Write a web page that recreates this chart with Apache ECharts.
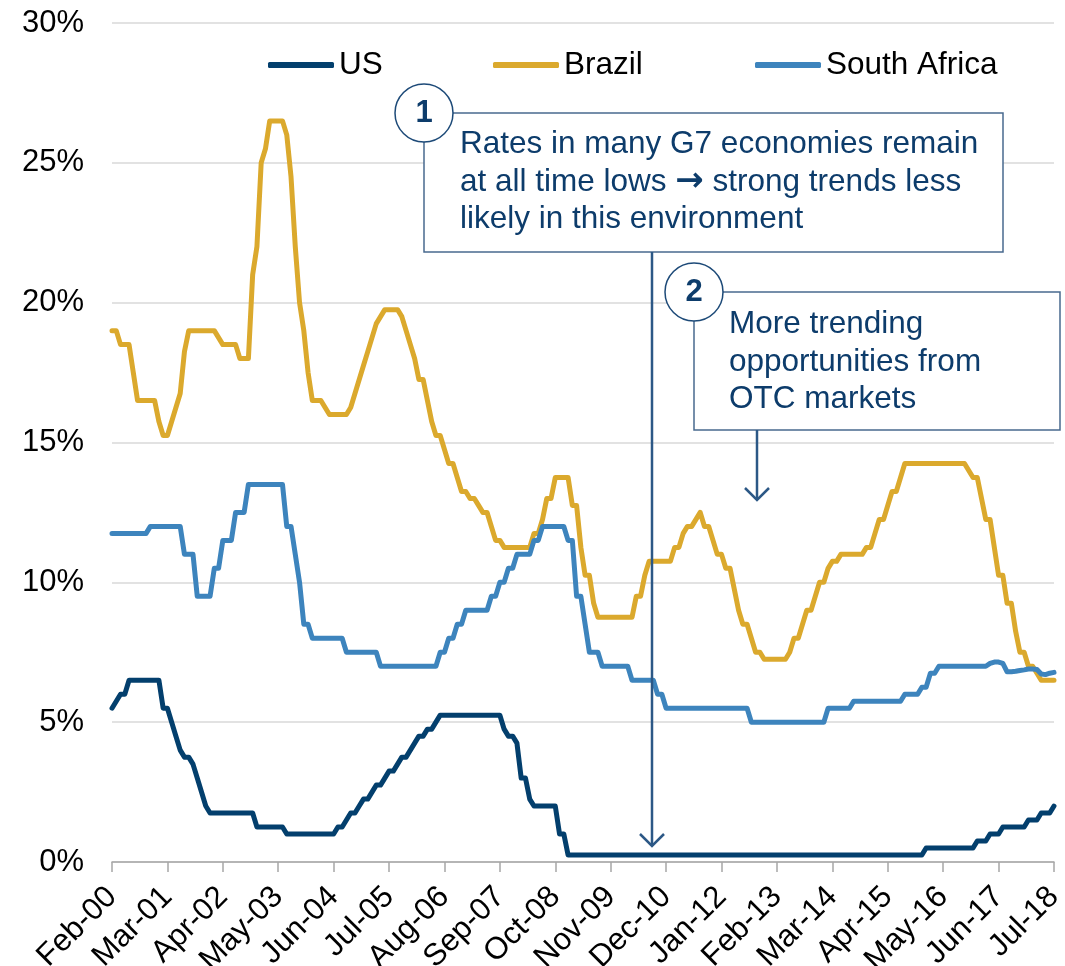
<!DOCTYPE html>
<html><head><meta charset="utf-8">
<script src="https://cdn.jsdelivr.net/npm/echarts@6/dist/echarts.min.js"></script>
<style>html,body{margin:0;padding:0;background:#fff}#c{width:1065px;height:966px}</style>
</head><body><div id="c"></div><script>
// Monthly observations, Feb-2000 .. Jul-2018 (policy rates, %)
const monthNames = ['Jan','Feb','Mar','Apr','May','Jun','Jul','Aug','Sep','Oct','Nov','Dec'];
const firstYear = 2000, firstMonth = 1, monthCount = 222;
const tickLabels = ['Feb-00','Mar-01','Apr-02','May-03','Jun-04','Jul-05','Aug-06','Sep-07','Oct-08','Nov-09','Dec-10','Jan-12','Feb-13','Mar-14','Apr-15','May-16','Jun-17','Jul-18'];
const seriesNames = ['US','Brazil','South Africa'];

const us = [
  5.5,5.75,6,6,6.5,6.5,6.5,6.5,6.5,6.5,6.5,
  6.5,5.5,5.5,5,4.5,4,3.75,3.75,3.5,3,2.5,2,
  1.75,1.75,1.75,1.75,1.75,1.75,1.75,1.75,1.75,1.75,1.75,1.25,
  1.25,1.25,1.25,1.25,1.25,1.25,1,1,1,1,1,1,
  1,1,1,1,1,1,1.25,1.25,1.5,1.75,1.75,2,
  2.25,2.25,2.5,2.75,2.75,3,3.25,3.25,3.5,3.75,3.75,4,
  4.25,4.5,4.5,4.75,4.75,5,5.25,5.25,5.25,5.25,5.25,5.25,
  5.25,5.25,5.25,5.25,5.25,5.25,5.25,5.25,5.25,4.75,4.5,4.5,
  4.25,3,3,2.25,2,2,2,2,2,2,1,1,
  0.25,0.25,0.25,0.25,0.25,0.25,0.25,0.25,0.25,0.25,0.25,0.25,
  0.25,0.25,0.25,0.25,0.25,0.25,0.25,0.25,0.25,0.25,0.25,0.25,
  0.25,0.25,0.25,0.25,0.25,0.25,0.25,0.25,0.25,0.25,0.25,0.25,
  0.25,0.25,0.25,0.25,0.25,0.25,0.25,0.25,0.25,0.25,0.25,0.25,
  0.25,0.25,0.25,0.25,0.25,0.25,0.25,0.25,0.25,0.25,0.25,0.25,
  0.25,0.25,0.25,0.25,0.25,0.25,0.25,0.25,0.25,0.25,0.25,0.25,
  0.25,0.25,0.25,0.25,0.25,0.25,0.25,0.25,0.25,0.25,0.25,0.25,
  0.5,0.5,0.5,0.5,0.5,0.5,0.5,0.5,0.5,0.5,0.5,0.5,
  0.75,0.75,0.75,1,1,1,1.25,1.25,1.25,1.25,1.25,1.25,
  1.5,1.5,1.5,1.75,1.75,1.75,2
];

const brazil = [
  19,19,18.5,18.5,18.5,17.5,16.5,16.5,16.5,16.5,16.5,
  15.75,15.25,15.25,15.75,16.25,16.75,18.25,19,19,19,19,19,
  19,19,18.75,18.5,18.5,18.5,18.5,18,18,18,21,22,
  25,25.5,26.5,26.5,26.5,26.5,26,24.5,22,20,19,17.5,
  16.5,16.5,16.5,16.25,16,16,16,16,16,16.25,16.75,17.25,
  17.75,18.25,18.75,19.25,19.5,19.75,19.75,19.75,19.75,19.5,19,18.5,
  18,17.25,17.25,16.5,15.75,15.25,15.25,14.75,14.25,14.25,13.75,13.25,
  13.25,13,13,12.75,12.5,12.5,12,11.5,11.5,11.25,11.25,11.25,
  11.25,11.25,11.25,11.25,11.75,11.75,12.25,13,13,13.75,13.75,13.75,
  13.75,12.75,12.75,11.25,10.25,10.25,9.25,8.75,8.75,8.75,8.75,8.75,
  8.75,8.75,8.75,8.75,9.5,9.5,10.25,10.75,10.75,10.75,10.75,10.75,
  10.75,11.25,11.25,11.75,12,12,12.25,12.5,12,12,11.5,11,
  11,10.5,10.5,9.75,9,8.5,8.5,8,7.5,7.5,7.25,7.25,
  7.25,7.25,7.25,7.25,7.5,8,8,8.5,9,9,9.5,10,
  10,10.5,10.75,10.75,11,11,11,11,11,11,11.25,11.25,
  11.75,12.25,12.25,12.75,13.25,13.25,13.75,14.25,14.25,14.25,14.25,14.25,
  14.25,14.25,14.25,14.25,14.25,14.25,14.25,14.25,14.25,14.25,14,13.75,
  13.75,13,12.25,12.25,11.25,10.25,10.25,9.25,9.25,8.25,7.5,7.5,
  7,7,6.75,6.5,6.5,6.5,6.5
];

const southAfrica = [
  11.75,11.75,11.75,11.75,11.75,11.75,11.75,11.75,11.75,12,12,
  12,12,12,12,12,12,11,11,11,9.5,9.5,9.5,
  9.5,10.5,10.5,11.5,11.5,11.5,12.5,12.5,12.5,13.5,13.5,13.5,
  13.5,13.5,13.5,13.5,13.5,13.5,12,12,11,10,8.5,8.5,
  8,8,8,8,8,8,8,8,7.5,7.5,7.5,7.5,
  7.5,7.5,7.5,7.5,7,7,7,7,7,7,7,7,
  7,7,7,7,7,7,7.5,7.5,8,8,8.5,8.5,
  9,9,9,9,9,9,9.5,9.5,10,10,10.5,10.5,
  11,11,11,11,11.5,11.5,12,12,12,12,12,12,
  11.5,11.5,9.5,9.5,8.5,7.5,7.5,7.5,7,7,7,7,
  7,7,7,6.5,6.5,6.5,6.5,6.5,6.5,6,6,5.5,
  5.5,5.5,5.5,5.5,5.5,5.5,5.5,5.5,5.5,5.5,5.5,5.5,
  5.5,5.5,5.5,5.5,5.5,5.5,5.5,5,5,5,5,5,
  5,5,5,5,5,5,5,5,5,5,5,5,
  5,5.5,5.5,5.5,5.5,5.5,5.5,5.75,5.75,5.75,5.75,5.75,
  5.75,5.75,5.75,5.75,5.75,5.75,5.75,6,6,6,6,6.25,
  6.25,6.75,6.75,7,7,7,7,7,7,7,7,7,
  7,7,7,7.1,7.15,7.15,7.1,6.8,6.8,6.82,6.85,6.87,
  6.9,6.9,6.88,6.72,6.7,6.75,6.78
];

const categories = [];
for (let i = 0; i < monthCount; i++) {
  const t = firstMonth + i;
  const y = firstYear + Math.floor(t / 12);
  categories.push(monthNames[t % 12] + '-' + String(y % 100).padStart(2, '0'));
}

const FONT = '"Liberation Sans", Arial, sans-serif';
const NAVY = '#0d3c6b';
const colors = ['#033f6d', '#dba92d', '#3d84bd'];

const chart = echarts.init(document.getElementById('c'), null, {renderer: 'canvas'});

const legendBase = {
  top: 49, padding: 0, itemWidth: 66, itemHeight: 6, icon: 'roundRect', itemGap: 4,
  textStyle: {fontFamily: FONT, fontSize: 31.5, color: '#000'}, selectedMode: false
};

const showTick = (idx, val) => tickLabels.indexOf(val) !== -1;

chart.setOption({
  animation: false,
  backgroundColor: '#fff',
  color: colors,
  textStyle: {fontFamily: FONT},
  grid: {left: 112, right: 11, top: 23, bottom: 104, containLabel: false, outerBoundsMode: 'none'},
  legend: [
    Object.assign({}, legendBase, {left: 268, data: [seriesNames[0]]}),
    Object.assign({}, legendBase, {left: 493, data: [seriesNames[1]]}),
    Object.assign({}, legendBase, {left: 755, data: [seriesNames[2]]})
  ],
  xAxis: {
    type: 'category', data: categories, boundaryGap: false,
    axisLine: {lineStyle: {color: '#a6a6a6', width: 1.5}},
    axisTick: {show: true, interval: showTick, length: 10, lineStyle: {color: '#a6a6a6', width: 1.5}},
    axisLabel: {interval: showTick, rotate: 45, margin: 30, fontFamily: FONT, fontSize: 31, color: '#000', hideOverlap: false},
    splitLine: {show: false}
  },
  yAxis: {
    type: 'value', min: 0, max: 30, interval: 5,
    axisLine: {show: false}, axisTick: {show: false},
    axisLabel: {formatter: v => v + '%', fontFamily: FONT, fontSize: 31, color: '#000', margin: 28},
    splitLine: {lineStyle: {color: '#d9d9d9', width: 1.5}}
  },
  series: [
    {name: seriesNames[0], data: us},
    {name: seriesNames[1], data: brazil},
    {name: seriesNames[2], data: southAfrica}
  ].map((s, i) => Object.assign(s, {
    type: 'line', showSymbol: false, symbol: 'none',
    lineStyle: {width: 5, color: colors[i], join: 'round', cap: 'round'},
    itemStyle: {color: colors[i]}, z: 2 + i
  })),
  graphic: [
    {type: 'rect', z: 100, shape: {x: 424, y: 113, width: 579, height: 139}, style: {fill: '#fff', stroke: '#48698f', lineWidth: 1.5}},
    {type: 'text', z: 101, left: 460, top: 126, style: {
      text: 'Rates in many G7 economies remain\nat all time lows {arr|\u2192} strong trends less\nlikely in this environment',
      fill: NAVY, font: '31.5px ' + FONT, lineHeight: 37.5,
      rich: {arr: {fill: NAVY, fontFamily: '"DejaVu Sans"', fontWeight: 'bold', fontSize: 34, lineHeight: 37.5}}
    }},
    {type: 'line', z: 100, shape: {x1: 652, y1: 252, x2: 652, y2: 846}, style: {stroke: '#2c5886', lineWidth: 2.5}},
    {type: 'polyline', z: 100, shape: {points: [[640, 834], [652, 846], [664, 834]]}, style: {fill: 'none', stroke: '#2c5886', lineWidth: 2.5}},
    {type: 'circle', z: 102, shape: {cx: 424, cy: 113, r: 29}, style: {fill: '#fff', stroke: '#1d4a78', lineWidth: 1.5}},
    {type: 'text', z: 103, x: 424, y: 113, style: {text: '1', fill: NAVY, font: 'bold 31px ' + FONT, align: 'center', verticalAlign: 'middle'}},

    {type: 'rect', z: 100, shape: {x: 694, y: 292, width: 366, height: 138}, style: {fill: '#fff', stroke: '#48698f', lineWidth: 1.5}},
    {type: 'text', z: 101, left: 729, top: 306, style: {text: 'More trending\nopportunities from\nOTC markets', fill: NAVY, font: '31.5px ' + FONT, lineHeight: 37.5}},
    {type: 'line', z: 100, shape: {x1: 757, y1: 430, x2: 757, y2: 500}, style: {stroke: '#2c5886', lineWidth: 2.5}},
    {type: 'polyline', z: 100, shape: {points: [[745, 488], [757, 500], [769, 488]]}, style: {fill: 'none', stroke: '#2c5886', lineWidth: 2.5}},
    {type: 'circle', z: 102, shape: {cx: 694, cy: 292, r: 29}, style: {fill: '#fff', stroke: '#1d4a78', lineWidth: 1.5}},
    {type: 'text', z: 103, x: 694, y: 292, style: {text: '2', fill: NAVY, font: 'bold 31px ' + FONT, align: 'center', verticalAlign: 'middle'}}
  ]
});
if (us.length !== monthCount || brazil.length !== monthCount || southAfrica.length !== monthCount) {
  chart.setOption({title: {text: 'LEN ' + us.length + ' ' + brazil.length + ' ' + southAfrica.length, left: 300, top: 500}});
}
</script></body></html>
